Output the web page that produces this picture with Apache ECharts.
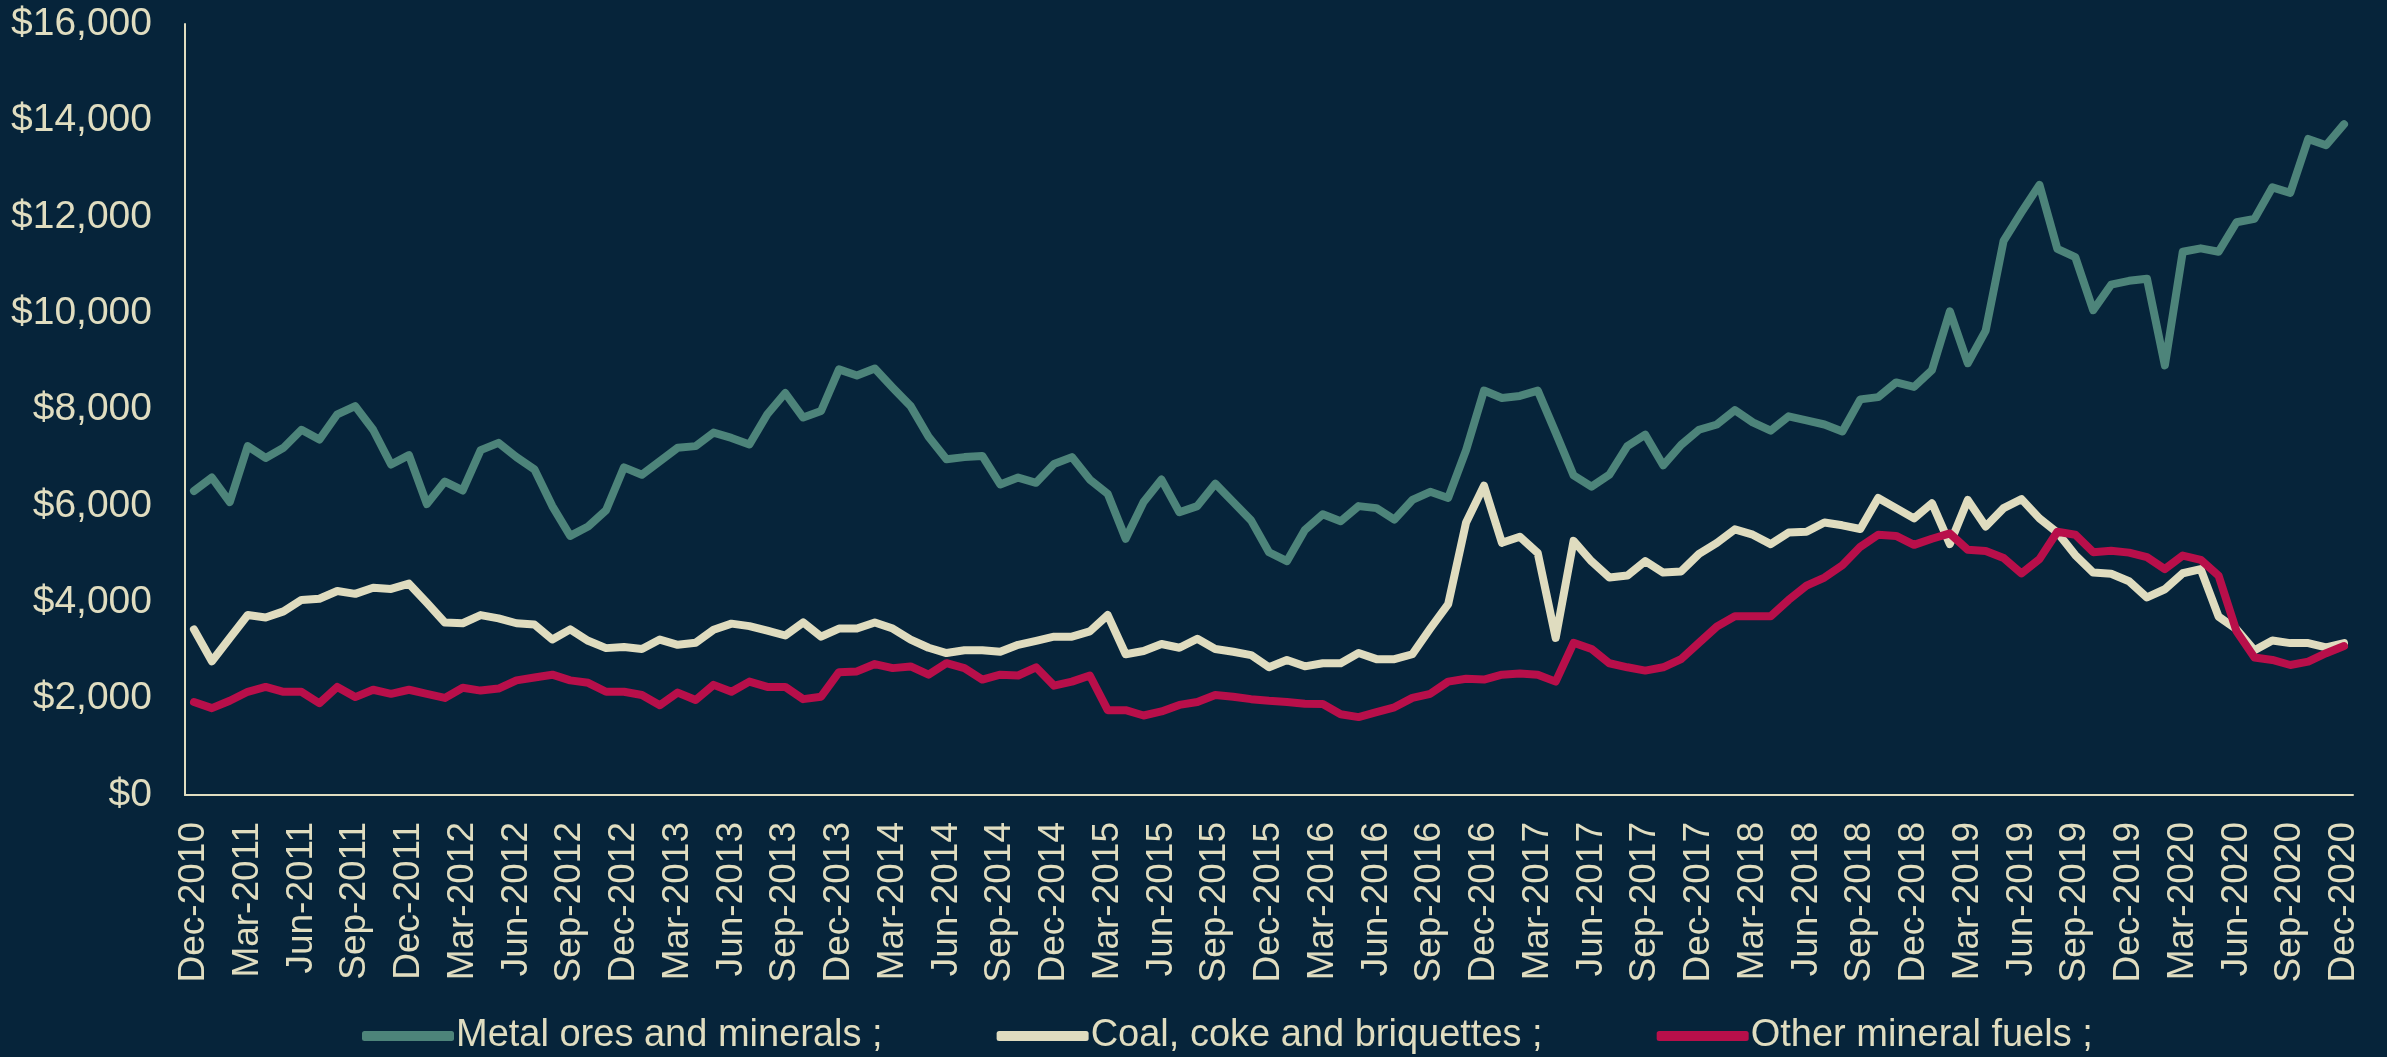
<!DOCTYPE html>
<html>
<head>
<meta charset="utf-8">
<script src="https://cdn.jsdelivr.net/npm/echarts@6/dist/echarts.min.js"></script>
<style>
html,body{margin:0;padding:0;background:#06243a;}
#chart{width:2387px;height:1057px;}
</style>
</head>
<body>
<div id="chart"></div>
<script>
var monthNames = ['Jan','Feb','Mar','Apr','May','Jun','Jul','Aug','Sep','Oct','Nov','Dec'];
var categories = ['Dec-2010'];
for (var y = 2011; y <= 2020; y++) {
  for (var m = 0; m < 12; m++) categories.push(monthNames[m] + '-' + y);
}

var seriesNames = ['Metal ores and minerals ;', 'Coal, coke and briquettes ;', 'Other mineral fuels ;'];

var metalOres = [6309,6588,6080,7240,6995,7207,7579,7376,7901,8070,7579,6859,7054,6037,6504,6320,
7156,7308,7012,6758,5995,5377,5572,5910,6800,6647,6927,7207,7240,7520,7410,7275,
7901,8342,7833,7969,8833,8706,8850,8452,8070,7435,6969,7012,7037,6444,6588,6478,
6867,7012,6546,6249,5317,6080,6546,5868,5995,6461,6080,5699,5038,4852,5500,5826,
5682,5995,5953,5716,6123,6292,6165,7156,8393,8240,8282,8393,7520,6631,6400,6647,
7240,7478,6842,7266,7579,7689,7986,7732,7562,7859,7774,7689,7545,8210,8257,8562,
8469,8816,10036,8960,9638,11501,12094,12661,11332,11162,10061,10590,10670,10715,8916,11274,
11344,11274,11886,11956,12611,12497,13615,13484,13921];

var coalCoke = [3437,2777,3259,3734,3683,3810,4047,4073,4234,4174,4301,4276,4386,3988,3581,3564,
3734,3666,3564,3539,3226,3437,3200,3048,3073,3031,3226,3116,3158,3429,3556,3505,
3412,3310,3581,3285,3454,3454,3581,3454,3226,3056,2946,3005,3005,2972,3116,3200,
3285,3285,3395,3734,2921,2989,3133,3056,3243,3031,2972,2904,2650,2802,2670,2734,
2734,2946,2819,2819,2921,3454,3963,5656,6419,5233,5360,5021,3259,5275,4850,4513,
4555,4852,4615,4640,5004,5233,5512,5402,5207,5445,5462,5656,5597,5520,6165,5953,
5741,6055,5207,6123,5572,5953,6140,5741,5445,4979,4615,4590,4436,4100,4270,4602,
4689,3702,3440,3003,3205,3152,3152,3065,3152];

var otherFuels = [1930,1803,1956,2142,2243,2142,2142,1904,2243,2032,2184,2100,2184,2100,2015,2226,
2167,2209,2379,2438,2497,2379,2328,2142,2142,2074,1862,2125,1972,2285,2142,2353,
2243,2243,1989,2040,2548,2565,2718,2633,2667,2497,2735,2633,2396,2497,2480,2650,
2269,2353,2480,1760,1760,1650,1735,1870,1930,2074,2040,1989,1955,1930,1895,1887,
1676,1617,1718,1820,2015,2100,2353,2413,2396,2497,2523,2497,2353,3158,3031,2734,
2650,2582,2650,2819,3158,3497,3708,3708,3708,4047,4343,4513,4767,5150,5400,5377,
5191,5318,5428,5089,5064,4920,4598,4894,5462,5402,5038,5068,5030,4935,4689,4969,
4881,4550,3397,2855,2803,2698,2768,2943,3091];

var colors = ['#4d847a', '#dfdcbf', '#b80f4a'];
var textColor = '#e0ddc0';
var fontFam = '"Liberation Sans", Arial, sans-serif';

function mkSeries(name, data, color) {
  return {
    name: name, type: 'line', data: data, symbol: 'none', smooth: false,
    lineStyle: { color: color, width: 8, cap: 'round', join: 'round' },
    itemStyle: { color: color },
    animation: false
  };
}

var chart = echarts.init(document.getElementById('chart'));
chart.setOption({
  backgroundColor: '#06243a',
  animation: false,
  grid: { left: 185, right: 34, top: 24, bottom: 262, containLabel: false },
  legend: {
    left: 357, top: 1012,
    itemWidth: 92, itemHeight: 10, itemGap: 114,
    icon: 'roundRect',
    textStyle: { color: textColor, fontSize: 38, fontFamily: fontFam, padding: [0, 0, 0, -3] },
    data: seriesNames
  },
  xAxis: {
    type: 'category',
    data: categories,
    boundaryGap: true,
    axisLine: { show: true, lineStyle: { color: textColor, width: 2 } },
    axisTick: { show: false },
    axisLabel: {
      interval: 2, rotate: 90, margin: 27,
      color: textColor, fontSize: 37, fontFamily: fontFam
    },
    splitLine: { show: false }
  },
  yAxis: {
    type: 'value', min: 0, max: 16000, interval: 2000,
    axisLine: { show: true, lineStyle: { color: textColor, width: 2 } },
    axisTick: { show: false },
    splitLine: { show: false },
    axisLabel: {
      margin: 33, color: textColor, fontSize: 39, fontFamily: fontFam,
      formatter: function (v) { return '$' + v.toLocaleString('en-US'); }
    }
  },
  series: [
    mkSeries(seriesNames[0], metalOres, colors[0]),
    mkSeries(seriesNames[1], coalCoke, colors[1]),
    mkSeries(seriesNames[2], otherFuels, colors[2])
  ]
});
</script>
</body>
</html>
